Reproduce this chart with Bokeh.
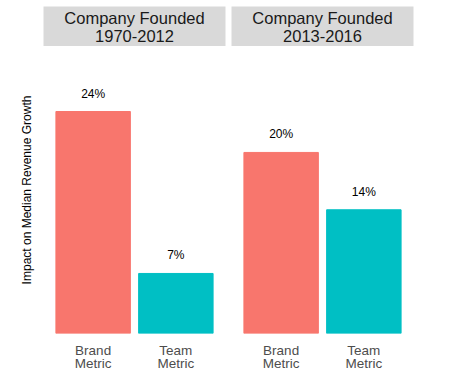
from bokeh.plotting import figure
from bokeh.layouts import row, column
from bokeh.models import ColumnDataSource, Label, FixedTicker, Range1d, FactorRange
from bokeh.embed import file_html
from bokeh.resources import INLINE

# ---- data ----
panels = ["Company Founded\n1970-2012", "Company Founded\n2013-2016"]
metrics = ["Brand\nMetric", "Team\nMetric"]
values_1970_2012 = [0.244, 0.066]
values_2013_2016 = [0.199, 0.136]
colors = ["#F8766D", "#00BFC4"]

FONT = "Liberation Sans"
PX_PER_UNIT = 909.8
FRAME_H = 287
FRAME_W = 182
TOP_PAD = 6
STRIP_H = 40


def strip(title, left_border, right_border):
    s = figure(width=left_border + FRAME_W + right_border, height=TOP_PAD + STRIP_H,
               x_range=(0, 1), y_range=(0, 1), output_backend="svg",
               toolbar_location=None, min_border_left=left_border,
               min_border_right=right_border, min_border_top=TOP_PAD,
               min_border_bottom=0, background_fill_color="#d9d9d9",
               outline_line_color=None)
    s.axis.visible = False
    s.grid.visible = False
    s.add_layout(Label(x=0.5, y=0.5, text=title, text_align="center",
                       text_baseline="middle", text_font_size="16.5px",
                       text_font=FONT, text_color="#1a1a1a",
                       text_line_height=1.0))
    return s


def panel(vals, left_border, right_border, show_ylabel):
    src = ColumnDataSource(dict(
        x=metrics, top=vals, color=colors,
        label=[f"{round(v * 100)}%" for v in vals]))
    p = figure(width=left_border + FRAME_W + right_border,
               height=FRAME_H + 45,
               x_range=FactorRange(*metrics, range_padding=0.1,
                                   range_padding_units="absolute"),
               y_range=Range1d(0, FRAME_H / PX_PER_UNIT),
               output_backend="svg", toolbar_location=None,
               min_border_left=left_border, min_border_right=right_border,
               min_border_top=0, min_border_bottom=45,
               outline_line_color=None)
    p.vbar(x="x", top="top", width=0.9, bottom=0, color="color", source=src)
    p.text(x="x", y="top", text="label", source=src, text_align="center",
           text_baseline="middle", y_offset=-18, text_font_size="12px",
           text_font={"value": FONT}, text_color="black")
    p.grid.visible = False
    p.xaxis.axis_line_color = None
    p.xaxis.major_tick_line_color = None
    p.xaxis.minor_tick_line_color = None
    p.xaxis.major_label_text_font_size = "13.5px"
    p.xaxis.major_label_text_font = FONT
    p.xaxis.major_label_text_color = "#4d4d4d"
    p.xaxis.major_label_text_line_height = 0.88
    p.xaxis.major_label_standoff = 3
    if show_ylabel:
        p.yaxis.ticker = FixedTicker(ticks=[])
        p.yaxis.axis_line_color = None
        p.yaxis.major_tick_line_color = None
        p.yaxis.minor_tick_line_color = None
        p.yaxis.axis_label = "Impact on Median Revenue Growth"
        p.yaxis.axis_label_text_font = FONT
        p.yaxis.axis_label_text_font_style = "normal"
        p.yaxis.axis_label_text_font_size = "12px"
        p.yaxis.axis_label_text_color = "black"
        p.yaxis.axis_label_standoff = 10
    else:
        p.yaxis.visible = False
    return p


s1 = strip(panels[0], 43, 3)
s2 = strip(panels[1], 3, 20)
p1 = panel(values_1970_2012, 43, 3, True)
p2 = panel(values_2013_2016, 3, 20, False)

layout = column(row(s1, s2), row(p1, p2))

open("out.html", "w").write(file_html(layout, INLINE))
